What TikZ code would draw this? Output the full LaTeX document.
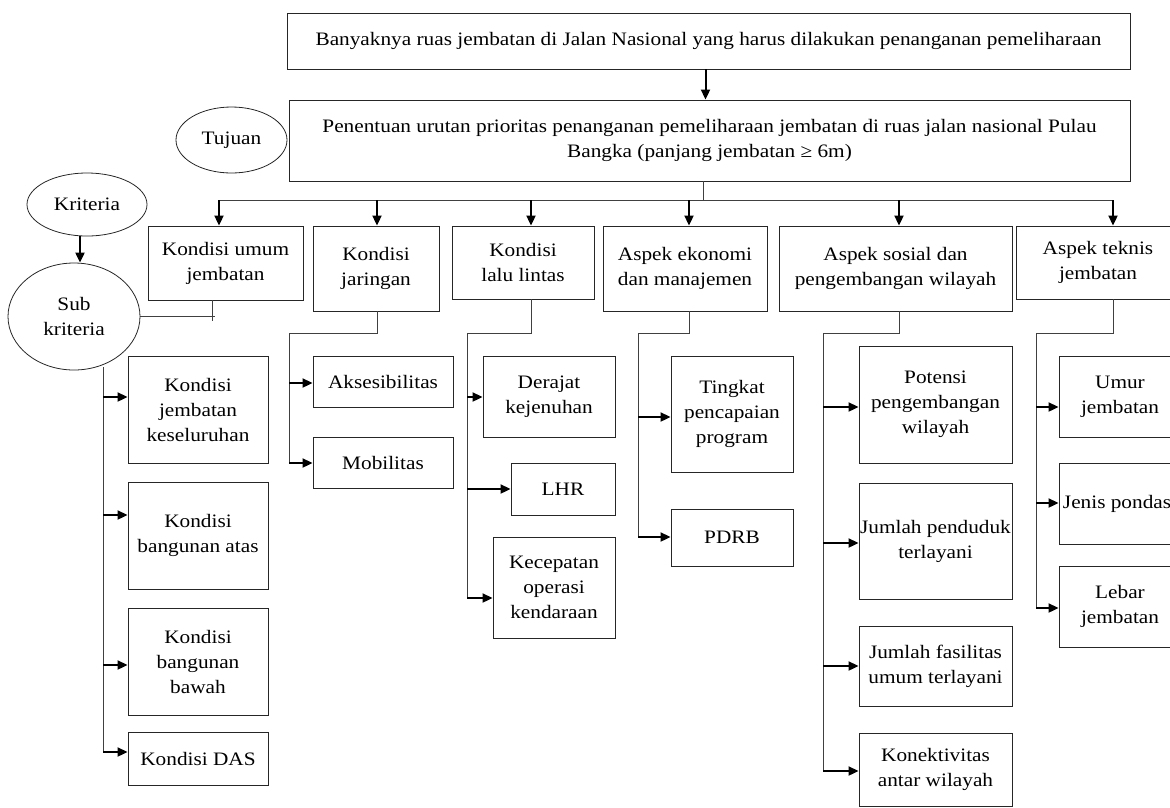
\documentclass[tikz,border=0pt]{standalone}
\usepackage{fontspec}
\setmainfont{Liberation Serif}[FakeStretch=1.12]
\usetikzlibrary{arrows.meta,shapes.geometric}
\tikzset{
  kotak/.style={draw=black!85, line width=0.9pt, rectangle, align=center, inner sep=0pt},
  bulat/.style={draw=black!85, line width=0.8pt, ellipse, align=center, inner sep=0pt},
  garis/.style={draw=black!75, line width=0.9pt},
  panah/.style={draw=black, line width=2pt, -{Triangle[length=10pt,width=9pt]}},
}
\begin{document}
\begin{tikzpicture}[x=1pt, y=-1pt, font=\fontsize{19}{25}\selectfont]
            % Frame on the pixel grid of the figure:
            \useasboundingbox (0,0) rectangle (1170,807);
            \clip (0,0) rectangle (1170,807);
            \node[kotak, minimum width=843pt, minimum height=56pt] (masalah) at ( 708.5, 41.0) {Banyaknya ruas jembatan di Jalan Nasional yang harus dilakukan penanganan pemeliharaan};
            \node[kotak, minimum width=841pt, minimum height=81pt] (utama)   at ( 709.5,140.5) {Penentuan urutan prioritas penanganan pemeliharaan jembatan di ruas jalan nasional Pulau\\Bangka (panjang jembatan ≥ 6m)};
            \node[bulat, minimum width=111pt, minimum height=66pt]  (tujuan)  at ( 231.5,140.0) {Tujuan};
            \node[bulat, minimum width=120pt, minimum height=63pt]  (krit)    at (  87.0,204.5) {Kriteria};
            \node[bulat, minimum width=132pt, minimum height=107pt] (sub)     at (  74.0,316.5) {Sub\\kriteria};
            \draw[panah] ([xshift=-3pt]masalah.south) -- ([xshift=-3pt]masalah.south |- utama.north);
            \draw[panah] ([xshift=-7pt]krit.south) -- ([xshift=-7pt]krit.south |- sub.north);

            % Kriteria:
            \node[kotak, minimum width=155pt, minimum height=74pt] (kuj) at ( 225.5,263.0) {Kondisi umum\\jembatan};
            \node[kotak, minimum width=126pt, minimum height=85pt] (kjr) at ( 376.0,268.5) {Kondisi\\jaringan};
            \node[kotak, minimum width=142pt, minimum height=73pt] (kll) at ( 523.0,262.5) {Kondisi\\lalu lintas};
            \node[kotak, minimum width=164pt, minimum height=85pt] (aem) at ( 685.0,268.5) {Aspek ekonomi\\dan manajemen};
            \node[kotak, minimum width=233pt, minimum height=85pt] (asp) at ( 895.5,268.5) {Aspek sosial dan\\pengembangan wilayah};
            \node[kotak, minimum width=164pt, minimum height=73pt] (atk) at (1098.0,262.5) {Aspek teknis\\jembatan};
            \draw[garis] ([xshift=-6pt]utama.south) -- ++(0,19);
            \draw[garis] (219,200) -- (1113,200);
            \foreach \x/\n in {219/kuj, 377/kjr, 531/kll, 689/aem, 899/asp, 1113/atk}{
                \coordinate (b\n) at (\x,200);
                \draw[panah] (b\n) -- (b\n |- \n.north);
            }

            % Sub kriteria:
            \node[kotak, minimum width=140pt, minimum height=107pt] (kjk) at ( 198.0,409.5) {Kondisi\\jembatan\\keseluruhan};
            \node[kotak, minimum width=140pt, minimum height=107pt] (kba) at ( 198.0,535.5) {Kondisi\\bangunan atas};
            \node[kotak, minimum width=140pt, minimum height=107pt] (kbb) at ( 198.0,661.5) {Kondisi\\bangunan\\bawah};
            \node[kotak, minimum width=140pt, minimum height=53pt]  (das) at ( 198.0,758.5) {Kondisi DAS};
            \node[kotak, minimum width=140pt, minimum height=51pt]  (aks) at ( 383.0,381.5) {Aksesibilitas};
            \node[kotak, minimum width=140pt, minimum height=51pt]  (mob) at ( 383.0,462.5) {Mobilitas};
            \node[kotak, minimum width=132pt, minimum height=81pt]  (der) at ( 549.0,396.5) {Derajat\\kejenuhan};
            \node[kotak, minimum width=104pt, minimum height=52pt]  (lhr) at ( 563.0,489.0) {LHR};
            \node[kotak, minimum width=122pt, minimum height=101pt] (kec) at ( 554.0,587.5) {Kecepatan\\operasi\\kendaraan};
            \node[kotak, minimum width=122pt, minimum height=116pt] (tpp) at ( 732.0,414.0) {Tingkat\\pencapaian\\program};
            \node[kotak, minimum width=122pt, minimum height=57pt]  (pdrb) at ( 732.0,537.5) {PDRB};
            \node[kotak, minimum width=153pt, minimum height=117pt] (pot) at ( 935.5,404.5) {Potensi\\pengembangan\\wilayah};
            \node[kotak, minimum width=153pt, minimum height=116pt] (jpt) at ( 935.5,541.0) {Jumlah penduduk\\terlayani};
            \node[kotak, minimum width=153pt, minimum height=80pt]  (jfu) at ( 935.5,666.0) {Jumlah fasilitas\\umum terlayani};
            \node[kotak, minimum width=153pt, minimum height=73pt]  (kon) at ( 935.5,769.5) {Konektivitas\\antar wilayah};
            \node[kotak, minimum width=122pt, minimum height=81pt]  (umr) at (1120.0,396.5) {Umur\\jembatan};
            \node[kotak, minimum width=122pt, minimum height=81pt]  (jpd) at (1120.0,503.5) {Jenis pondasi};
            \node[kotak, minimum width=122pt, minimum height=81pt]  (lbr) at (1120.0,606.5) {Lebar\\jembatan};

            % Bus lines to the sub kriteria:
            \draw[garis] (sub.east) -- (215,316.5);
            \draw[garis] (212,300) -- (212,321);
            \draw[garis] (103,367) -- (103,752);
            \draw[garis] (bkjr |- kjr.south) |- (289,333) -- (289,463);
            \draw[garis] (bkll |- kll.south) |- (467,333) -- (467,598);
            \draw[garis] (baem |- aem.south) |- (638,333) -- (638,537);
            \draw[garis] (basp |- asp.south) |- (823,333) -- (823,771);
            \draw[garis] (batk |- atk.south) |- (1036,333) -- (1036,608);
            \foreach \x/\y/\n in {103/397/kjk, 103/515/kba, 103/665/kbb, 103/752/das, 289/383/aks, 289/463/mob,
                                  467/397/der, 467/489/lhr, 467/598/kec, 638/417/tpp, 638/537/pdrb,
                                  823/407/pot, 823/543/jpt, 823/666/jfu, 823/771/kon, 1036/407/umr, 1036/503/jpd, 1036/608/lbr}{
                \coordinate (p\n) at (\x,\y);
                \draw[panah] (p\n) -- (p\n -| \n.west);
            }
        \end{tikzpicture}
\end{document}
